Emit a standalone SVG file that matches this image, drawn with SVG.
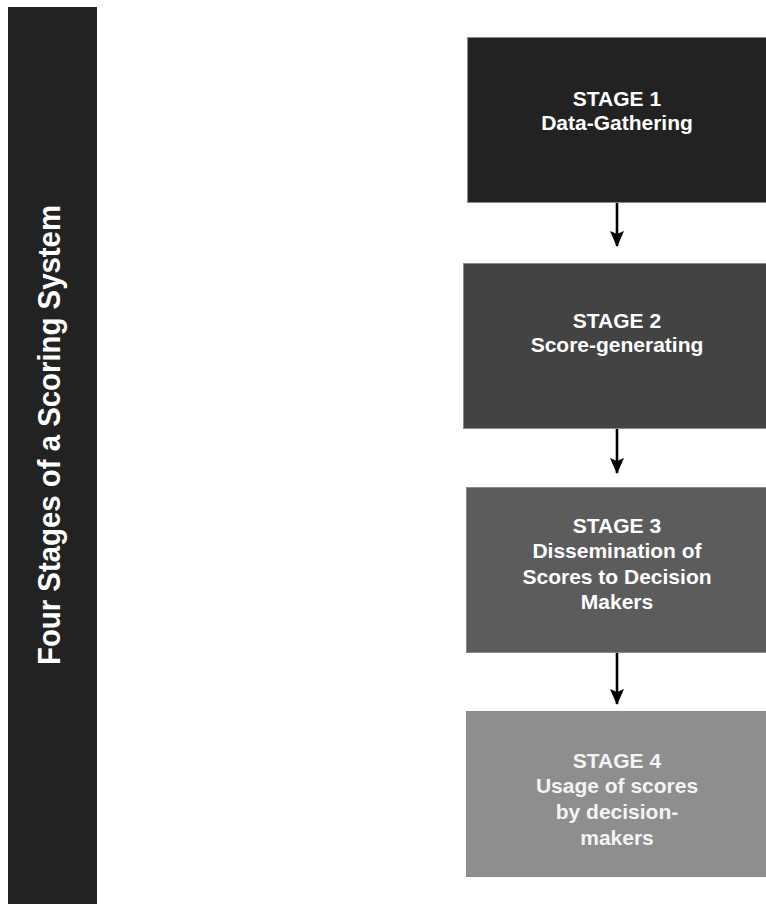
<svg xmlns="http://www.w3.org/2000/svg" width="766" height="904" viewBox="0 0 766 904">
<style>
.box{stroke:#8a8a8a;stroke-width:1}
.t{font-family:"Liberation Sans",Arial,Helvetica,sans-serif;font-weight:bold;font-size:21px;fill:#ffffff;text-anchor:middle}
.title{font-family:"Liberation Sans",Arial,Helvetica,sans-serif;font-weight:bold;font-size:31px;fill:#ffffff;text-anchor:middle}
.conn{stroke:#000;stroke-width:2.6;fill:none}
</style>
<defs>
<marker id="ah" markerUnits="userSpaceOnUse" viewBox="0 0 16 14" refX="15" refY="7" markerWidth="16" markerHeight="14" orient="auto">
<path d="M0,0 L3,7 L0,14 L16,7 Z" fill="#000"/>
</marker>
</defs>
<rect width="766" height="904" fill="#ffffff"/>
<g id="title-bar">
<rect x="8" y="7" width="89" height="897" fill="#222222"/>
<text class="title" transform="translate(60,435) rotate(-90)" textLength="460" lengthAdjust="spacingAndGlyphs">Four Stages of a Scoring System</text>
</g>
<g id="stage1">
<rect class="box" x="467.5" y="37.5" width="300" height="165" fill="#222222"/>
<text class="t" x="617" y="106">STAGE 1</text>
<text class="t" x="617" y="130">Data-Gathering</text>
</g>
<g id="stage2">
<rect class="box" x="463.5" y="263.5" width="304" height="165" fill="#434343"/>
<text class="t" x="617" y="328">STAGE 2</text>
<text class="t" x="617" y="352">Score-generating</text>
</g>
<g id="stage3">
<rect class="box" x="466.5" y="487.5" width="301" height="165" fill="#5c5c5c"/>
<text class="t" x="617" y="533">STAGE 3</text>
<text class="t" x="617" y="558">Dissemination of</text>
<text class="t" x="617" y="584">Scores to Decision</text>
<text class="t" x="617" y="609">Makers</text>
</g>
<g id="stage4">
<rect class="box" x="466.5" y="711.5" width="301" height="165" fill="#8e8e8e"/>
<text class="t" x="617" y="768" style="fill:#f4f4f4">STAGE 4</text>
<text class="t" x="617" y="793" style="fill:#f4f4f4">Usage of scores</text>
<text class="t" x="617" y="819" style="fill:#f4f4f4">by decision-</text>
<text class="t" x="617" y="845" style="fill:#f4f4f4">makers</text>
</g>
<g id="connectors">
<path class="conn" d="M617,203 L617,246" marker-end="url(#ah)"/>
<path class="conn" d="M617,429 L617,473" marker-end="url(#ah)"/>
<path class="conn" d="M617,653 L617,704" marker-end="url(#ah)"/>
</g>
</svg>
